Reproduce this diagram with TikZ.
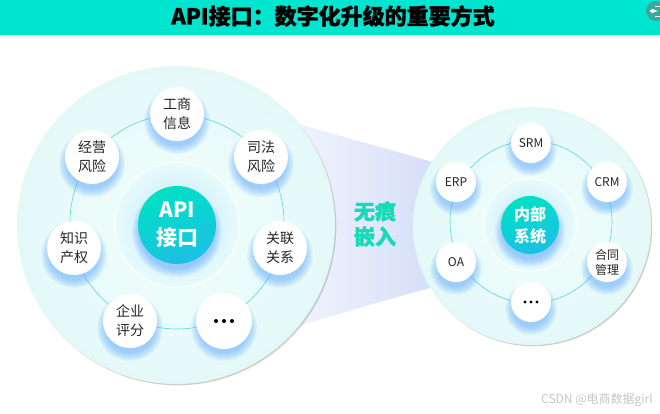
\documentclass[tikz,border=0pt]{standalone}
\usepackage{fontspec}
\setmainfont{Noto Sans CJK SC}
\newfontfamily\heavy{Noto Sans CJK SC}[BoldFeatures={FakeBold=1.3}]
\definecolor{headteal}{HTML}{00E5CF}
\definecolor{bigin}{HTML}{F2FEFD}
\definecolor{bigout}{HTML}{E3F9F8}
\definecolor{ringline}{HTML}{55DCCF}
\definecolor{glowblue}{HTML}{5FA8FF}
\definecolor{haloin}{HTML}{BCE5F7}
\definecolor{haloout}{HTML}{E9FBFC}
\definecolor{coreA}{HTML}{00E1C4}
\definecolor{coreB}{HTML}{1BC0E4}
\definecolor{funL}{HTML}{EFF3FC}
\definecolor{funR}{HTML}{D3DDF8}
\definecolor{embed}{HTML}{19D9B8}
\definecolor{txt}{HTML}{262626}
\definecolor{icondark}{HTML}{3AA89B}
\newcommand\softglow[2]{%
  \foreach \k in {1,...,9}{\fill[glowblue,opacity=0.075] ([yshift=-7pt]#1) circle[radius={(#2+\k)*1pt}];}}
\tikzset{
  smallL/.style={circle, fill=white, minimum size=54pt, inner sep=0pt, align=center,
    font=\fontsize{14}{19}\selectfont, text=txt},
  smallR/.style={circle, fill=white, minimum size=40pt, inner sep=0pt, align=center,
    font=\fontsize{12}{15}\selectfont, text=txt},
  corenode/.style={circle, inner sep=0pt, align=center, text=white,
    top color=coreA, bottom color=coreB, shading angle=20, font=\bfseries},
  ringpath/.style={draw=ringline, line width=0.6pt},
}
\begin{document}
\begin{tikzpicture}[x=1pt,y=-1pt]
\useasboundingbox (0,0) rectangle (660,413);
\fill[white] (0,0) rectangle (660,413);
% header
\fill[black,opacity=0.06] (0,35) rectangle (660,38);
\fill[headteal] (0,0) rectangle (660,35);
\node[font=\heavy\bfseries\fontsize{22}{22}\selectfont, text=black] (title) at (333,16) {API接口：数字化升级的重要方式};
\node[circle, fill=icondark, minimum size=20pt, inner sep=0pt] (icon) at (656,11) {};
\draw[white, line width=1pt] ([xshift=-1pt,yshift=5pt]icon.center) -- ([xshift=4pt,yshift=5pt]icon.center) -- ([xshift=4pt,yshift=-5pt]icon.center) -- ([xshift=-1pt,yshift=-5pt]icon.center);
\draw[white, line width=1.2pt, -latex] ([xshift=-6pt]icon.center) -- ([xshift=2pt]icon.center);

% funnel
\shade[left color=funL, right color=funR]
  (300,124) .. controls (350,140) and (395,150) .. (445,166) -- (445,284)
  .. controls (400,296) and (350,310) .. (300,326) -- cycle;

% left big circle
\coordinate (L) at (176,225);
\fill[gray!70,opacity=0.55] (177.3,226.3) circle[radius=159pt];
\shade[inner color=bigin, outer color=bigout] (L) circle[radius=159pt];
\coordinate (Lr) at (177,222);
\draw[ringpath] (Lr) circle[radius=107pt];
% halo and core
\coordinate (Lc) at (177,225);
\shade[inner color=haloin, outer color=haloout] (Lc) circle[radius=63pt];
\draw[white,opacity=0.8,line width=1.4pt] (Lc) circle[radius=62.5pt];
\softglow{Lc}{36}
\node[corenode, minimum size=78pt, font=\bfseries\fontsize{21}{28}\selectfont] (api) at (Lc) {API\\接口};

% left small nodes
\coordinate (pGS) at (177,114);
\coordinate (pSF) at (261,157);
\coordinate (pGL) at (280,248);
\coordinate (pDL) at (224,321);
\coordinate (pQY) at (130,321);
\coordinate (pZS) at (74,248);
\coordinate (pJY) at (92,157);
\foreach \p in {pGS,pSF,pGL,pDL,pQY,pZS,pJY}{\softglow{\p}{24}}
\node[smallL] (gs) at (pGS) {工商\\信息};
\node[smallL] (sf) at (pSF) {司法\\风险};
\node[smallL] (gl) at (pGL) {关联\\关系};
\node[smallL, minimum size=56pt] (dl) at (pDL) {};
\foreach \dx in {-8,0,8}{\fill[black] ([xshift=\dx pt]dl.center) circle[radius=2pt];}
\node[smallL] (qy) at (pQY) {企业\\评分};
\node[smallL] (zs) at (pZS) {知识\\产权};
\node[smallL] (jy) at (pJY) {经营\\风险};

% embed text
\node[font=\heavy\bfseries\fontsize{21}{25}\selectfont, text=embed, align=center] (emb) at (375,224) {无痕\\嵌入};

% right big circle
\coordinate (R) at (532,226);
\fill[gray!70,opacity=0.55] (533.2,227.2) circle[radius=119pt];
\shade[inner color=bigin, outer color=bigout] (R) circle[radius=119pt];
\coordinate (Rr) at (531,222);
\draw[ringpath] (Rr) circle[radius=81pt];
\coordinate (Rc) at (530,225);
\shade[inner color=haloin, outer color=haloout] (Rc) circle[radius=47pt];
\draw[white,opacity=0.8,line width=1.4pt] (Rc) circle[radius=46.5pt];
\softglow{Rc}{26}
\node[corenode, minimum size=58pt, font=\bfseries\fontsize{16}{22}\selectfont] (nb) at (Rc) {内部\\系统};

\coordinate (pSRM) at (531,143);
\coordinate (pCRM) at (607,182);
\coordinate (pHT) at (607,262);
\coordinate (pRD) at (531,302);
\coordinate (pOA) at (456,262);
\coordinate (pERP) at (456,182);
\foreach \p in {pSRM,pCRM,pHT,pRD,pOA,pERP}{\softglow{\p}{17}}
\node[smallR] (srm) at (pSRM) {SRM};
\node[smallR] (crm) at (pCRM) {CRM};
\node[smallR] (ht) at (pHT) {合同\\管理};
\node[smallR] (rd) at (pRD) {};
\foreach \dx in {-6,0,6}{\fill[black] ([xshift=\dx pt]rd.center) circle[radius=1.6pt];}
\node[smallR] (oa) at (pOA) {OA};
\node[smallR] (erp) at (pERP) {ERP};

% watermark
\node[anchor=east, text=gray!45, font=\fontsize{12}{12}\selectfont, inner sep=0pt] (wm) at (653,400) {CSDN @电商数据girl};
\end{tikzpicture}
\end{document}
